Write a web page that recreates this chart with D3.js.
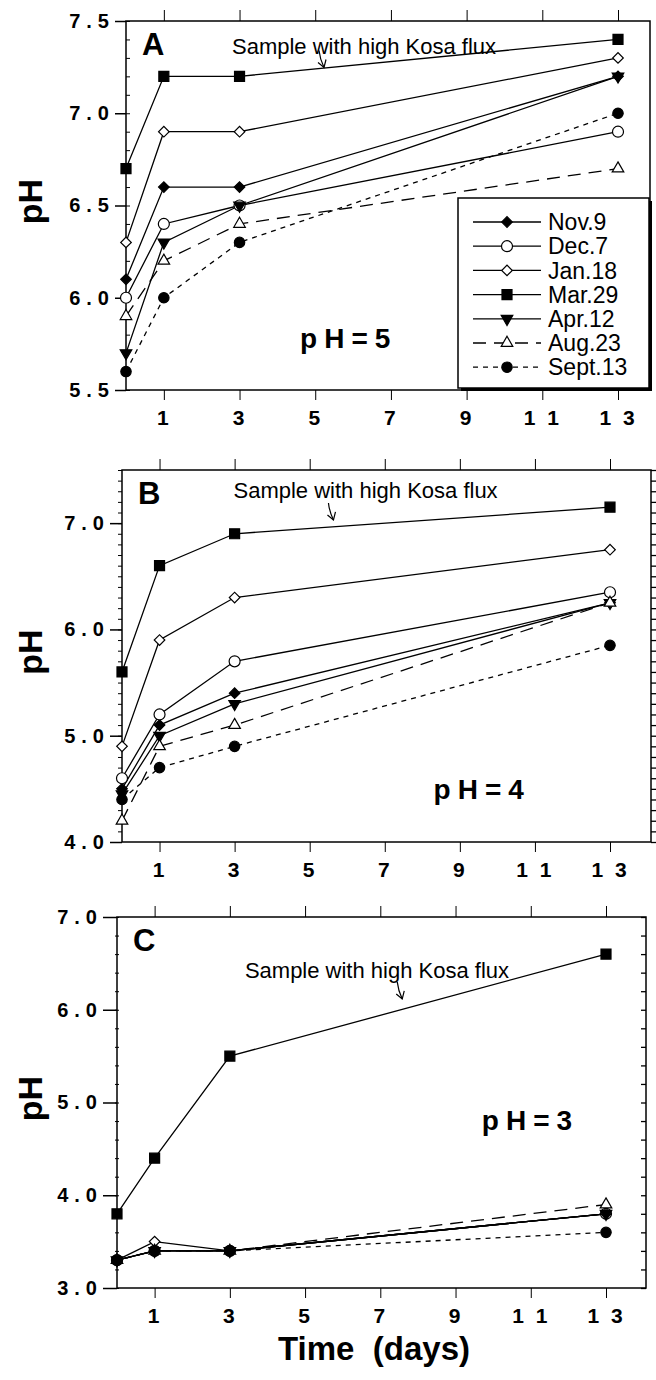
<!DOCTYPE html>
<html>
<head>
<meta charset="utf-8">
<script src="https://cdn.jsdelivr.net/npm/d3@7"></script>
<style>
body { margin: 0; background: #fff; }
svg { display: block; }
text { font-family: "Liberation Sans", Arial, Helvetica, sans-serif; fill: #000; }
</style>
</head>
<body>
<svg width="656" height="1380"></svg>
<script>
// sampling days and sample names
var days = [0, 1, 3, 13];
var samples = ["Nov.9", "Dec.7", "Jan.18", "Mar.29", "Apr.12", "Aug.23", "Sept.13"];

// x ticks
var xTicks = [1, 3, 5, 7, 9, 11, 13];
var xTickLabels = ["1", "3", "5", "7", "9", "1 1", "1 3"];

// pH values, one row per sample (same order as samples)
var phA = [
    [6.1, 6.6, 6.6, 7.2],
    [6.0, 6.4, 6.5, 6.9],
    [6.3, 6.9, 6.9, 7.3],
    [6.7, 7.2, 7.2, 7.4],
    [5.7, 6.3, 6.5, 7.2],
    [5.9, 6.2, 6.4, 6.7],
    [5.6, 6.0, 6.3, 7.0]
];
var phB = [
    [4.5, 5.1, 5.4, 6.25],
    [4.6, 5.2, 5.7, 6.35],
    [4.9, 5.9, 6.3, 6.75],
    [5.6, 6.6, 6.9, 7.15],
    [4.45, 5.0, 5.3, 6.25],
    [4.2, 4.9, 5.1, 6.25],
    [4.4, 4.7, 4.9, 5.85]
];
var phC = [
    [3.3, 3.4, 3.4, 3.8],
    [3.3, 3.4, 3.4, 3.8],
    [3.3, 3.5, 3.4, 3.8],
    [3.8, 4.4, 5.5, 6.6],
    [3.3, 3.4, 3.4, 3.8],
    [3.3, 3.4, 3.4, 3.9],
    [3.3, 3.4, 3.4, 3.6]
];

var yTicksA = [5.5, 6.0, 6.5, 7.0, 7.5];
var yTicksB = [4.0, 5.0, 6.0, 7.0];
var yTicksC = [3.0, 4.0, 5.0, 6.0, 7.0];

// marker / line style per sample
var markerOf = ["diamondF", "circleO", "diamondO", "squareF", "triDownF", "triUpO", "circleF"];
var dashOf = [null, null, null, null, null, "13,8", "5,5"];

var svg = d3.select("svg");

function drawMarker(g, type, cx, cy) {
    var sym, size, rot = 0, filled = true;
    if (type == "diamondF" || type == "diamondO") { sym = d3.symbolSquare; size = 56; rot = 45; filled = type == "diamondF"; }
    if (type == "circleO") { sym = d3.symbolCircle; size = 95; filled = false; }
    if (type == "circleF") { sym = d3.symbolCircle; size = 85; }
    if (type == "squareF") { sym = d3.symbolSquare; size = 100; }
    if (type == "triDownF") { sym = d3.symbolTriangle; size = 58; rot = 180; }
    if (type == "triUpO") { sym = d3.symbolTriangle; size = 58; filled = false; }
    g.append("path")
        .attr("d", d3.symbol().type(sym).size(size)())
        .attr("transform", "translate(" + cx + "," + cy + ") rotate(" + rot + ")")
        .attr("fill", filled ? "#000" : "#fff")
        .attr("stroke", "#000")
        .attr("stroke-width", 1.2);
}

function panel(p) {
    var g = svg.append("g");
    var x = d3.scaleLinear().domain([0, 13]).range([p.left, p.x13]);
    var y = d3.scaleLinear().domain(p.yDom).range([p.bottom, p.top]);

    // frame
    g.append("rect")
        .attr("x", p.left).attr("y", p.top)
        .attr("width", p.right - p.left).attr("height", p.bottom - p.top)
        .attr("fill", "none").attr("stroke", "#000").attr("stroke-width", 1.5);

    // left axis, major ticks + labels
    var ya = g.append("g").attr("transform", "translate(" + p.left + ",0)")
        .call(d3.axisLeft(y).tickValues(p.yTicks).tickSize(p.majorLen).tickFormat(d3.format(".1f")));
    ya.select(".domain").remove();
    ya.selectAll("line").attr("stroke-width", 1.5);
    ya.selectAll("text")
        .attr("x", -p.majorLen)
        .attr("font-size", 20).attr("font-weight", "bold")
        .attr("letter-spacing", "6px")
        .attr("font-family", "'Liberation Sans', Arial, sans-serif");

    // left minor ticks
    var minors = d3.range(p.yDom[0], p.yDom[1] + 1e-6, p.minorStep);
    var ym = g.append("g").attr("transform", "translate(" + (p.left + p.minorShift) + ",0)")
        .call(d3.axisLeft(y).tickValues(minors).tickSize(4).tickFormat(""));
    ym.select(".domain").remove();

    // right ticks
    if (p.rightStep) {
        var rt = d3.range(p.yDom[0], p.yDom[1] + 1e-6, p.rightStep);
        var yr = g.append("g").attr("transform", "translate(" + p.right + ",0)")
            .call(d3.axisRight(y).tickValues(rt).tickSize(p.rightLen).tickFormat(""));
        yr.select(".domain").remove();
        yr.selectAll("line").attr("stroke-width", 1.3);
    }

    // bottom axis
    var xb = g.append("g").attr("transform", "translate(0," + p.bottom + ")")
        .call(d3.axisBottom(x).tickValues(xTicks).tickSize(10)
            .tickFormat(function(d, i) { return xTickLabels[i]; }));
    xb.select(".domain").remove();
    xb.selectAll("text")
        .attr("y", 35).attr("dy", 0)
        .attr("font-size", 21).attr("font-weight", "bold")
        .attr("letter-spacing", "3px")
        .attr("font-family", "'Liberation Sans', Arial, sans-serif")
        .style("white-space", "pre");

    // top ticks
    var xt = g.append("g").attr("transform", "translate(0," + p.top + ")")
        .call(d3.axisTop(x).tickValues(xTicks).tickSize(11).tickFormat(""));
    xt.select(".domain").remove();

    // lines
    var line = d3.line().x(function(d) { return x(d[0]); }).y(function(d) { return y(d[1]); });
    p.values.forEach(function(row, i) {
        g.append("path")
            .datum(days.map(function(d, j) { return [d, row[j]]; }))
            .attr("d", line)
            .attr("fill", "none").attr("stroke", "#000").attr("stroke-width", 1.3)
            .attr("stroke-dasharray", dashOf[i]);
    });
    // markers
    p.values.forEach(function(row, i) {
        days.forEach(function(d, j) {
            drawMarker(g, markerOf[i], x(d), y(row[j]));
        });
    });

    // panel letter
    g.append("text").attr("x", p.left + p.letterDx).attr("y", p.top + 34)
        .attr("font-size", 31).attr("font-weight", "bold").text(p.letter);

    // annotation
    g.append("text").attr("x", x(p.noteX)).attr("y", y(p.noteY))
        .attr("font-size", 22).text("Sample with high Kosa flux");
    var ax = x(p.arrowX), ay = y(p.arrowY);
    g.append("path")
        .attr("d", "M" + ax + "," + ay + " q1,9 5,17")
        .attr("fill", "none").attr("stroke", "#000").attr("stroke-width", 1.2);
    g.append("path")
        .attr("d", "M" + (ax - 1) + "," + (ay + 12) + " L" + (ax + 5) + "," + (ay + 17) + " L" + (ax + 7) + "," + (ay + 9))
        .attr("fill", "none").attr("stroke", "#000").attr("stroke-width", 1.2);

    // pH condition label
    g.append("text").attr("x", x(p.condX)).attr("y", y(p.condY))
        .attr("font-size", 28).attr("font-weight", "bold")
        .attr("letter-spacing", "7px").text(p.cond);

    // y title
    g.append("text")
        .attr("transform", "translate(42," + ((p.top + p.bottom) / 2 - 4) + ") rotate(-90)")
        .attr("text-anchor", "middle")
        .attr("font-size", 34).attr("font-weight", "bold").text("pH");

    return { g: g, x: x, y: y };
}

var pa = panel({
    letter: "A", left: 126, right: 650, top: 21, bottom: 390, x13: 618, yDom: [5.5, 7.5],
    yTicks: yTicksA, majorLen: 11, minorStep: 0.1, minorShift: 4, rightStep: null,
    values: phA, letterDx: 16, noteX: 2.8, noteY: 7.32, arrowX: 5.1, arrowY: 7.34,
    condX: 4.6, condY: 5.73, cond: "pH=5"
});
var pb = panel({
    letter: "B", left: 122, right: 651, top: 470, bottom: 842, x13: 610, yDom: [4.0, 7.5],
    yTicks: yTicksB, majorLen: 12, minorStep: 0.1, minorShift: 0, rightStep: 0.1, rightLen: 5,
    values: phB, letterDx: 16, noteX: 2.97, noteY: 7.24, arrowX: 5.5, arrowY: 7.19,
    condX: 8.3, condY: 4.4, cond: "pH=4"
});
var pc = panel({
    letter: "C", left: 117, right: 646, top: 917, bottom: 1288, x13: 606, yDom: [3.0, 7.0],
    yTicks: yTicksC, majorLen: 14, minorStep: 0.2, minorShift: 2, rightStep: 0.2, rightLen: -5,
    values: phC, letterDx: 16, noteX: 3.4, noteY: 6.34, arrowX: 7.45, arrowY: 6.3,
    condX: 9.7, condY: 4.7, cond: "pH=3"
});

// legend (panel A)
var lg = pa.g.append("g");
lg.append("rect").attr("x", 461).attr("y", 201).attr("width", 191).attr("height", 190).attr("fill", "#000");
lg.append("rect").attr("x", 458).attr("y", 198).attr("width", 191).attr("height", 190)
    .attr("fill", "#fff").attr("stroke", "#000").attr("stroke-width", 1.5);
samples.forEach(function(s, i) {
    var ry = 222 + i * 24.2;
    lg.append("line").attr("x1", 473).attr("x2", 541).attr("y1", ry).attr("y2", ry)
        .attr("stroke", "#000").attr("stroke-width", 1.3).attr("stroke-dasharray", dashOf[i]);
    drawMarker(lg, markerOf[i], 507, ry);
    lg.append("text").attr("x", 548).attr("y", ry).attr("dy", "0.36em")
        .attr("font-size", 23).text(s);
});

// x title
svg.append("text").attr("x", 374).attr("y", 1360).attr("text-anchor", "middle")
    .attr("font-size", 33).attr("font-weight", "bold").style("white-space", "pre")
    .text("Time  (days)");
</script>
</body>
</html>
